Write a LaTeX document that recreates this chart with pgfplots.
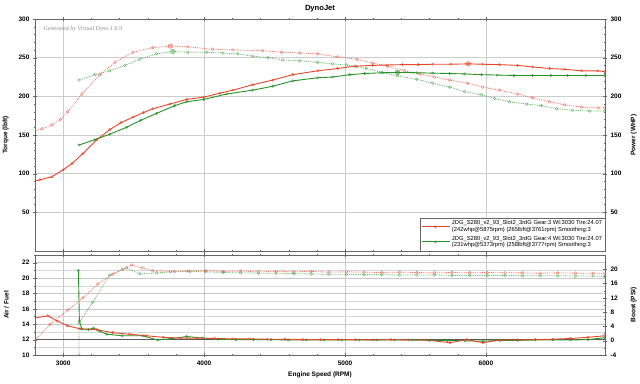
\documentclass[border=0pt]{standalone}
\usepackage{pgfplots}
\pgfplotsset{compat=1.18}
\usepackage{pgfplotstable}
\usepackage{fontspec}
\setmainfont{Liberation Sans}
\newfontfamily\genfont{Liberation Serif}
\definecolor{redS}{RGB}{232,70,42}
\definecolor{redD}{RGB}{236,112,96}
\definecolor{greenS}{RGB}{40,146,40}
\definecolor{greenD}{RGB}{96,176,96}

\pgfplotstableread{
rpm val
2799 155
2850 158
2920 163
2980 170
3033 180
3133 203
3260 228
3367 244
3495 257
3636 263
3761 265
3885 264
4060 261
4204 260
4416 259
4550 257
4678 256
4806 255
4948 251
5083 248
5196 243
5303 239
5423 233
5530 229
5636 225
5742 221
5870 217
5976 212
6097 208
6225 203
6331 198
6452 193
6558 189
6679 186
6800 185
6843 185
}\redTq

\pgfplotstableread{
rpm val
3112 221
3225 228
3331 233
3438 240
3544 248
3664 255
3777 258
3885 257
4019 257
4133 256
4239 255
4345 252
4452 250
4558 247
4678 246
4806 244
4912 242
5010 240.5
5083 238.5
5150 236
5260 231
5374 226.5
5509 222
5622 217
5742 212
5849 206
5969 202
6062 197
6168 193
6289 190
6395 188
6502 184
6615 182
6736 181
6843 181
}\greenTq

\pgfplotstableread{
rpm val
2799 90.5
2835 92
2920 96
3000 105
3062 113
3140 126
3239 144
3331 157
3410 166
3495 173
3570 179
3636 184
3757 190
3877 196
3998 199
4111 204
4204 208
4345 215
4487 221
4629 228
4806 233
4948 236
5069 239
5196 240
5300 240.5
5409 241
5520 241
5622 241.5
5750 241.5
5875 242
5976 241.5
6097 241
6225 240
6331 238
6452 236
6558 235
6679 233
6793 233
6843 232
}\redHp

\pgfplotstableread{
rpm val
3112 137
3225 144
3330 151
3450 160
3550 169
3664 178
3792 188
3877 193
3998 196
4161 203
4345 208
4487 213
4629 220
4806 224
4912 225
5033 228
5140 229.5
5267 230.5
5373 231
5509 230.5
5622 230
5742 229.5
5849 229
5969 228
6080 227.5
6200 227
6330 227
6460 227
6580 227
6710 227
6843 227
}\greenHp

\pgfplotstableread{
rpm val
2799 14.8
2890 15.1
2960 14.4
3030 13.8
3120 13.4
3240 13.3
3350 12.9
3470 12.7
3590 12.5
3710 12.3
3830 12.2
3950 12.2
4075 12.15
4200 12.1
4325 12.1
4450 12.05
4575 12.05
4700 12.0
4825 12.0
4950 12.0
5075 12.0
5200 11.95
5325 12.0
5450 11.95
5575 11.95
5745 11.6
5860 12.0
5980 11.6
6100 11.95
6225 11.95
6350 12.0
6475 12.05
6600 12.15
6725 12.3
6843 12.5
}\redAfr

\pgfplotstableread{
rpm val
3108 21.0
3115 14.4
3132 13.4
3180 13.3
3215 13.5
3260 13.1
3309 12.7
3420 12.5
3564 12.5
3670 11.95
3757 12.1
3877 12.4
3990 12.2
4100 12.05
4225 12.0
4350 12.0
4475 12.0
4600 11.95
4725 11.95
4850 11.95
4975 11.95
5100 11.95
5225 11.95
5350 11.95
5475 11.95
5600 11.9
5725 11.9
5850 11.85
5980 11.8
6100 11.9
6225 11.9
6350 11.95
6475 11.95
6600 11.95
6725 12.0
6843 12.25
}\greenAfr

\pgfplotstableread{
rpm val
2799 0
2906 4.6
3033 8.6
3140 12.0
3246 15.9
3352 18.6
3420 20.0
3487 21.2
3560 20.4
3636 19.6
3760 19.4
3885 19.5
4010 19.6
4135 19.4
4260 19.5
4385 19.3
4510 19.4
4635 19.3
4760 19.4
4885 19.2
5010 19.3
5135 19.2
5260 19.1
5385 19.2
5510 19.1
5635 19.0
5760 19.1
5885 19.0
6010 19.1
6135 19.0
6260 19.0
6385 18.9
6510 19.0
6635 18.9
6760 18.9
6843 18.9
}\redBoost

\pgfplotstableread{
rpm val
3112 -4
3113 5.0
3210 10.8
3331 18.4
3450 20.4
3544 18.7
3664 19.0
3790 19.3
3900 19.4
4010 19.3
4135 19.1
4260 19.0
4385 18.9
4510 18.9
4635 18.8
4760 18.7
4885 18.6
5010 18.6
5135 18.5
5260 18.5
5385 18.4
5510 18.4
5635 18.4
5760 18.3
5885 18.3
6010 18.3
6135 18.3
6260 18.2
6385 18.2
6510 18.2
6635 18.1
6760 18.1
6843 18.0
}\greenBoost

\pgfplotsset{
  dynobase/.style={
    anchor=south west, scale only axis,
    xmin=2800, xmax=6845,
    axis line style={draw=black!60},
    tick style={draw=black!60},
    tick align=center,
    major tick length=4pt, minor tick length=2pt,
    xtick={3000,4000,5000,6000},
    minor x tick num=4,
    ticklabel style={font=\fontsize{6.5}{7}\selectfont\bfseries},
    label style={font=\fontsize{6.5}{7}\selectfont\bfseries},
    /pgf/number format/assume math mode=true,
  },
  leftlab/.style={ylabel style={at={(axis description cs:-0.040,0.5)}, anchor=south}},
  rightlab/.style={ylabel style={at={(axis description cs:1.0386,0.5)}, anchor=north}},
  solidS/.style={line width=0.9pt, mark=o, mark size=1.2pt, mark options={solid, line width=0.35pt}},
  dotS/.style={densely dotted, line width=0.8pt, mark=o, mark size=1.4pt, mark options={solid, line width=0.35pt}},
}

\begin{document}
\begin{tikzpicture}
\path[use as bounding box] (0pt,0pt) rectangle (640pt,383pt);
\node[font=\fontsize{7.6}{8}\selectfont\bfseries] at (320pt,374pt) {DynoJet};

% ---------- top panel, left axis (torque)
\begin{axis}[dynobase,
  at={(35pt,132pt)}, width=570pt, height=232pt,
  ymin=0, ymax=300,
  ytick={50,100,...,300}, minor y tick num=4,
  xticklabels={},
  ytick pos=left, xtick pos=both,
  grid=major, major grid style={draw=black!20, line width=0.5pt},
  ylabel={Torque (lbft)}, leftlab,
]
\node[anchor=north west, font=\genfont\itshape\fontsize{6}{7}\selectfont, text=black!45] at (rel axis cs:0.009,0.985) {Generated by Virtual Dyno 1.6.9};
\addplot[greenD, dotS] table[x=rpm,y=val] {\greenTq};
\addplot[redD, dotS] table[x=rpm,y=val] {\redTq};
\addplot[redD, only marks, mark=o, mark size=2.2pt, line width=0.5pt] coordinates {(3761,265)};
\addplot[greenD, only marks, mark=o, mark size=2.2pt, line width=0.5pt] coordinates {(3777,258)};
\end{axis}

% ---------- top panel, right axis (power)
\begin{axis}[dynobase,
  at={(35pt,132pt)}, width=570pt, height=232pt,
  ymin=0, ymax=300,
  ytick={50,100,...,300}, minor y tick num=4,
  xticklabels={}, xtick pos=both,
  ytick pos=right,
  yticklabel style={anchor=west},
  ylabel={Power (WHP)}, rightlab,
  legend cell align=left,
  legend style={at={(1,0)}, anchor=south east, draw=black!60, fill=white,
     font=\fontsize{5.8}{6.4}\selectfont, inner sep=0.8pt, row sep=-1pt,
     cells={align=left}},
  legend image code/.code={\draw[mark repeat=2,mark phase=2,#1] plot coordinates {(0pt,0pt)(14pt,0pt)(28pt,0pt)};},
]
\addplot[redS, solidS] table[x=rpm,y=val] {\redHp};
\addlegendentry{JDG\_S280\_v2\_93\_Slot2\_3rdG Gear:3 Wt:3030 Tire:24.07\\(242whp@5875rpm) (265lbft@3761rpm) Smoothing:3}
\addplot[greenS, solidS] table[x=rpm,y=val] {\greenHp};
\addlegendentry{JDG\_S280\_v2\_93\_Slot2\_3rdG Gear:4 Wt:3030 Tire:24.07\\(231whp@5373rpm) (258lbft@3777rpm) Smoothing:3}
\addplot[redS, only marks, mark=o, mark size=2.2pt, line width=0.5pt, forget plot] coordinates {(5875,242)};
\addplot[greenS, only marks, mark=o, mark size=2.2pt, line width=0.5pt, forget plot] coordinates {(5373,231)};
\end{axis}

% ---------- bottom panel, left axis (AFR)
\begin{axis}[dynobase,
  at={(35pt,28pt)}, width=570pt, height=100pt,
  ymin=10, ymax=23,
  ytick={10,12,...,22}, minor ytick={11,13,...,23},
  xticklabels={3000,4000,5000,6000}, xtick pos=both,
  ytick pos=left,
  xmajorgrids, ymajorgrids, yminorgrids,
  major grid style={draw=black!22, line width=0.5pt},
  minor grid style={draw=black!16, line width=0.5pt},
  extra y ticks={12}, extra y tick labels={},
  extra y tick style={major grid style={draw=black!65, line width=0.6pt}},
  xlabel={Engine Speed (RPM)},
  xlabel style={at={(axis description cs:0.5,-0.2)}, anchor=center},
  ylabel={Air / Fuel}, leftlab,
]
\addplot[greenS, solidS] table[x=rpm,y=val] {\greenAfr};
\addplot[redS, solidS] table[x=rpm,y=val] {\redAfr};
\end{axis}

% ---------- bottom panel, right axis (boost)
\begin{axis}[dynobase,
  at={(35pt,28pt)}, width=570pt, height=100pt,
  ymin=-4, ymax=24,
  ytick={-4,0,...,20}, minor y tick num=1,
  xticklabels={}, xtick pos=both,
  ytick pos=right,
  yticklabel style={anchor=west},
  ylabel={Boost (PSI)}, rightlab,
]
\addplot[greenD, dotS] table[x=rpm,y=val] {\greenBoost};
\addplot[redD, dotS] table[x=rpm,y=val] {\redBoost};
\end{axis}
\end{tikzpicture}
\end{document}
